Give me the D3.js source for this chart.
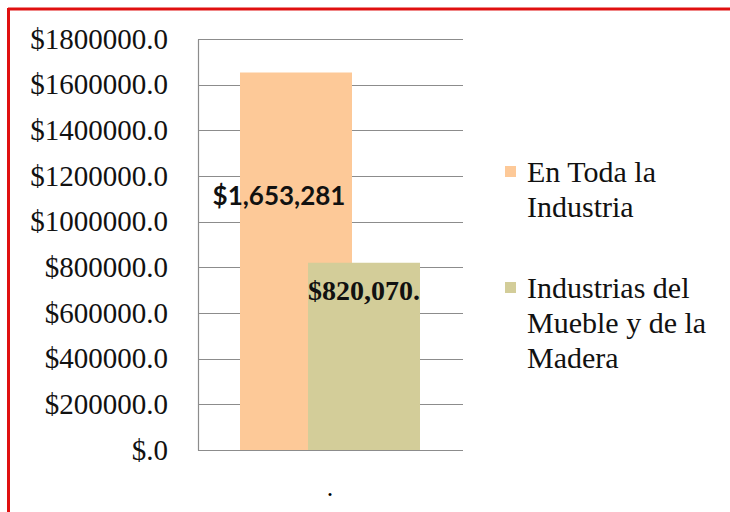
<!DOCTYPE html>
<html>
<head>
<meta charset="utf-8">
<script src="https://cdn.jsdelivr.net/npm/d3@7"></script>
<style>
  body { margin: 0; background: #fff; }
</style>
</head>
<body>
<svg width="730" height="512"></svg>
<script>
var series = ["En Toda la Industria", "Industrias del Mueble y de la Madera"];
var values = [1653281, 820070];
var valueLabels = ["$1,653,281", "$820,070."];
var colors = ["#fdc998", "#d3cd99"];
var legendLines = [["En Toda la", "Industria"], ["Industrias del", "Mueble y de la", "Madera"]];
var ticks = [0, 200000, 400000, 600000, 800000, 1000000, 1200000, 1400000, 1600000, 1800000];
var category = ".";

var svg = d3.select("svg");

// red frame, only top and left visible
svg.append("rect").attr("x", 0).attr("y", 0).attr("width", 730).attr("height", 512).attr("fill", "#fff");
svg.append("line").attr("x1", 8).attr("x2", 730).attr("y1", 9).attr("y2", 9)
    .attr("stroke", "#e01010").attr("stroke-width", 3);
svg.append("line").attr("x1", 8.5).attr("x2", 8.5).attr("y1", 8).attr("y2", 512)
    .attr("stroke", "#e01010").attr("stroke-width", 3);

var y = d3.scaleLinear().domain([0, 1800000]).range([450, 39]);
var x0 = 198, x1 = 463;

var yAxis = d3.axisLeft(y).tickValues(ticks).tickSize(0).tickPadding(30)
    .tickFormat(function(d) { return d === 0 ? "$.0" : "$" + d + ".0"; });

// gridlines
svg.append("g").selectAll("line").data(ticks).enter().append("line")
    .attr("x1", x0).attr("x2", x1)
    .attr("y1", function(d) { return Math.round(y(d)) + 0.5; })
    .attr("y2", function(d) { return Math.round(y(d)) + 0.5; })
    .attr("stroke", "#8c8c8c").attr("stroke-width", 1.2);

var ax = svg.append("g").attr("transform", "translate(" + x0 + ",0)").call(yAxis);
ax.select(".domain").attr("stroke", "#8c8c8c").attr("stroke-width", 1.2);
ax.selectAll("text")
    .attr("font-family", "'Liberation Serif', 'Times New Roman', serif")
    .attr("font-size", 29).attr("fill", "#111");

// bars, overlapping
var barW = 112;
var barX = [240, 308];
svg.append("g").selectAll("rect").data(values).enter().append("rect")
    .attr("x", function(d, i) { return barX[i]; })
    .attr("y", function(d) { return y(d); })
    .attr("width", barW)
    .attr("height", function(d) { return y(0) - y(d); })
    .attr("fill", function(d, i) { return colors[i]; });

// value labels
svg.append("text").attr("x", 279).attr("y", 205).attr("text-anchor", "middle")
    .attr("font-family", "Lato, 'DejaVu Sans', sans-serif").attr("font-weight", "bold")
    .attr("font-size", 26).attr("fill", "#111").text(valueLabels[0]);
svg.append("text").attr("x", 364).attr("y", 300).attr("text-anchor", "middle")
    .attr("font-family", "'Liberation Serif', serif").attr("font-weight", "bold")
    .attr("font-size", 28).attr("fill", "#111").text(valueLabels[1]);

// category label
svg.append("text").attr("x", 330).attr("y", 496).attr("text-anchor", "middle")
    .attr("font-family", "'Liberation Serif', serif").attr("font-size", 26).text(category);

// legend
var legY = [172, 288];
var lg = svg.append("g").selectAll("g").data(series).enter().append("g");
lg.append("rect").attr("x", 505).attr("y", function(d, i) { return legY[i] - 6; })
    .attr("width", 11).attr("height", 11)
    .attr("fill", function(d, i) { return colors[i]; });
lg.each(function(d, i) {
  d3.select(this).selectAll("text").data(legendLines[i]).enter().append("text")
    .attr("x", 527)
    .attr("y", function(t, j) { return legY[i] + 10 + j * 35; })
    .attr("font-family", "'Liberation Serif', 'Times New Roman', serif")
    .attr("font-size", 30).attr("fill", "#111").text(function(t) { return t; });
});
</script>
</body>
</html>
